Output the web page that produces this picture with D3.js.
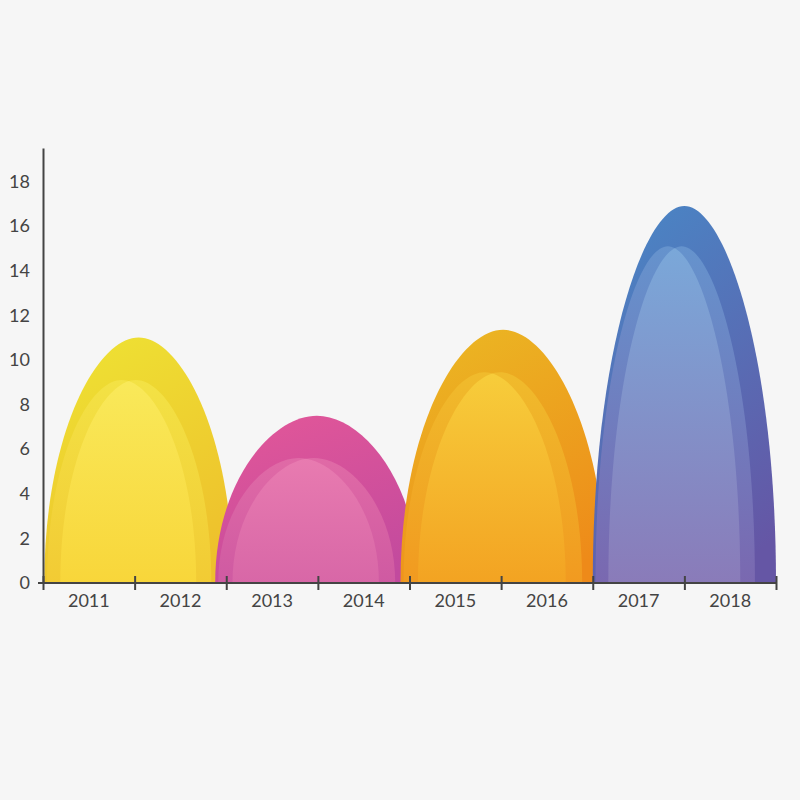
<!DOCTYPE html>
<html><head><meta charset="utf-8">
<script src="https://cdn.jsdelivr.net/npm/d3@7"></script>
<style>
html,body{margin:0;padding:0;background:#f6f6f6;}
svg{display:block;}
</style></head>
<body>
<svg id="chart" width="800" height="800"></svg>
<script>
// ---- data ----
const years = ["2011","2012","2013","2014","2015","2016","2017","2018"];
const groupNames = ["2011-2012","2013-2014","2015-2016","2017-2018"];
const outerValues = [11.0, 7.5, 11.35, 16.9];
const innerValues = [9.1, 5.6, 9.45, 15.1];
const yTicks = [0,2,4,6,8,10,12,14,16,18];
// ---- styles ----
const archSpread = [1.03, 1.11, 1.12, 1.0];
const archShift = [4, -1, 2, 0];
const outerTop = ["#eee033","#e05699","#ebb523","#4a84c4"];
const outerBottom = ["#eebf2c","#c24a9e","#ee8a19","#6556a5"];
const midTop = ["#f3e245","#e06aa6","#f0bb2c","#6593cd"];
const midBottom = ["#f2cb34","#cf5aa2","#f19a20","#7a68b0"];
const lightTop = ["#f9e95a","#e87bb0","#f7cd3b","#7aa8d9"];
const lightBottom = ["#f8d63a","#d867a7","#f3a322","#8a7bb9"];

const svg = d3.select("#chart");
const margin = {left:43, right:24, top:148, bottom:217};
const W = 800, H = 800;

const y = d3.scaleLinear().domain([0,19.5]).range([H-margin.bottom, margin.top]);
const xBand = d3.scaleBand().domain(years).range([margin.left, W-margin.right]).padding(0);
const xEdge = d3.scaleLinear().domain([0, years.length]).range([margin.left, W-margin.right]);

const defs = svg.append("defs");
function grad(id, c0, c1, diag){
  const gr = defs.append("linearGradient").attr("id",id)
    .attr("x1", diag ? "0.3" : "0").attr("y1","0")
    .attr("x2", diag ? "0.7" : "0").attr("y2","1");
  gr.append("stop").attr("offset","0").attr("stop-color",c0);
  gr.append("stop").attr("offset","1").attr("stop-color",c1);
}
groupNames.forEach((g,i)=>{
  grad("og"+i, outerTop[i], outerBottom[i], true);
  grad("mg"+i, midTop[i], midBottom[i], false);
  grad("lg"+i, lightTop[i], lightBottom[i], false);
});

function arch(cx, w, v){
  const y0 = y(0), yt = y(v), h = y0 - yt;
  const k1 = 0.6, k2 = 0.45;
  const p = d3.path();
  p.moveTo(cx-w, y0);
  p.bezierCurveTo(cx-w, y0-k1*h, cx-k2*w, yt, cx, yt);
  p.bezierCurveTo(cx+k2*w, yt, cx+w, y0-k1*h, cx+w, y0);
  p.closePath();
  return p.toString();
}

const marks = svg.append("g");
groupNames.forEach((g,i)=>{
  const a = xBand(years[2*i]);
  const b = xBand(years[2*i+1]) + xBand.bandwidth();
  const cx = (a+b)/2 + archShift[i];
  const hw = (b-a)/2*archSpread[i];
  const gg = marks.append("g");
  gg.append("path").attr("d", arch(cx, hw, outerValues[i])).attr("fill","url(#og"+i+")");
  const dA = arch(cx-0.18*hw, hw*0.79, innerValues[i]);
  const dB = arch(cx-0.03*hw, hw*0.80, innerValues[i]);
  gg.append("path").attr("d", dA).attr("fill","url(#mg"+i+")");
  gg.append("path").attr("d", dB).attr("fill","url(#mg"+i+")");
  defs.append("clipPath").attr("id","clipA"+i).append("path").attr("d", dA);
  gg.append("path").attr("d", dB).attr("clip-path","url(#clipA"+i+")").attr("fill","url(#lg"+i+")");
});

// ---- axes ----
const axisColor = "#444";
const font = "Lato, 'Open Sans', sans-serif";

const yAxis = svg.append("g").attr("transform",`translate(${margin.left},0)`)
  .call(d3.axisLeft(y).tickValues(yTicks).tickSize(0).tickPadding(13).tickFormat(d3.format("d")));
yAxis.select(".domain").attr("stroke",axisColor).attr("stroke-width",2);
yAxis.selectAll("text").attr("font-family",font).attr("font-size",18).attr("fill","#444");

const xTicks = svg.append("g").attr("transform",`translate(0,${y(0)})`)
  .call(d3.axisBottom(xEdge).tickValues(d3.range(0, years.length+1)).tickSize(7).tickFormat(""));
xTicks.select(".domain").attr("d",`M${xEdge.range()[0]-5},0H${xEdge.range()[1]}`)
  .attr("stroke",axisColor).attr("stroke-width",2);
xTicks.selectAll(".tick line").attr("y1",-7).attr("y2",7).attr("stroke",axisColor).attr("stroke-width",2);

const xLabels = svg.append("g").attr("transform",`translate(0,${y(0)})`)
  .call(d3.axisBottom(xBand).tickSize(0).tickPadding(11));
xLabels.select(".domain").remove();
xLabels.selectAll("text").attr("font-family",font).attr("font-size",18).attr("fill","#444");
</script>
</body></html>
